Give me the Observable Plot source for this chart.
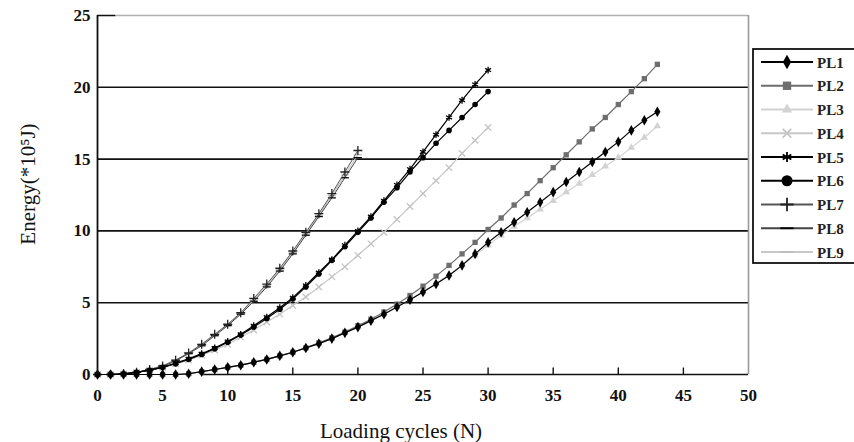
<!DOCTYPE html>
<html><head><meta charset="utf-8">
<script src="https://cdn.jsdelivr.net/npm/d3@7"></script>
<script src="https://cdn.jsdelivr.net/npm/@observablehq/plot@0.6"></script>
<style>
body{margin:0;background:#fff;}
#wrap{position:relative;width:854px;height:442px;overflow:hidden;background:#fff;}
#legend{position:absolute;left:752px;top:48px;}
</style></head><body><div id="wrap"></div>
<script>
// ---- data ----
const seriesNames = ["PL1","PL2","PL3","PL4","PL5","PL6","PL7","PL8","PL9"];
const xTicks = [0,5,10,15,20,25,30,35,40,45,50];
const yTicks = [0,5,10,15,20,25];
// energy values for cycles 0,1,2,... (one value per loading cycle)
const PL1 = [0,0,0,0,0,0,0,0.05,0.2,0.35,0.5,0.65,0.85,1.05,1.3,1.55,1.85,2.15,2.5,2.9,3.3,3.75,4.2,4.7,5.2,5.75,6.3,6.9,7.6,8.4,9.2,9.9,10.6,11.3,12.0,12.7,13.4,14.1,14.8,15.5,16.2,17.0,17.7,18.3];
const PL2 = [0,0,0,0,0,0,0,0.05,0.2,0.35,0.5,0.65,0.85,1.05,1.3,1.55,1.85,2.2,2.55,2.95,3.4,3.85,4.35,4.9,5.5,6.15,6.85,7.6,8.4,9.2,10.1,10.9,11.8,12.6,13.5,14.4,15.3,16.2,17.1,17.9,18.8,19.7,20.6,21.6];
const PL3 = [0,0,0,0,0,0,0,0.05,0.2,0.35,0.5,0.65,0.85,1.05,1.3,1.55,1.85,2.15,2.5,2.9,3.3,3.75,4.2,4.7,5.2,5.75,6.35,6.95,7.6,8.3,9.0,9.7,10.3,10.9,11.5,12.1,12.7,13.3,13.9,14.5,15.1,15.8,16.5,17.3];
const PL4 = [0,0,0.05,0.15,0.3,0.5,0.75,1.0,1.35,1.7,2.1,2.6,3.1,3.65,4.2,4.8,5.4,6.1,6.8,7.5,8.3,9.1,9.9,10.8,11.7,12.6,13.5,14.4,15.4,16.3,17.2];
const PL5 = [0,0,0.05,0.15,0.3,0.5,0.8,1.1,1.45,1.85,2.3,2.8,3.4,4.0,4.65,5.35,6.2,7.1,8.0,9.0,10.0,11.0,12.1,13.2,14.3,15.5,16.7,17.9,19.1,20.2,21.2];
const PL6 = [0,0,0.05,0.15,0.3,0.5,0.75,1.05,1.4,1.8,2.25,2.75,3.3,3.9,4.55,5.25,6.1,7.0,7.95,8.9,9.9,10.9,12.0,13.0,14.1,15.1,16.1,17.0,17.9,18.8,19.7];
const PL7 = [0,0,0.05,0.15,0.35,0.6,1.0,1.5,2.1,2.8,3.5,4.3,5.3,6.3,7.4,8.6,9.9,11.2,12.6,14.1,15.6];
const PL8 = [0,0,0.05,0.15,0.3,0.55,0.95,1.45,2.0,2.7,3.4,4.2,5.1,6.1,7.2,8.4,9.7,11.0,12.3,13.7,15.1];
const PL9 = [0,0,0.05,0.15,0.35,0.6,1.0,1.5,2.1,2.75,3.45,4.25,5.2,6.2,7.3,8.5,9.8,11.1,12.45,13.9,15.3];
const xLabel = "Loading cycles (N)";
const yLabel = "Energy(*10\u2075J)";

// ---- styles ----
const dash = {draw(ctx, size){const w = Math.sqrt(size)*0.75; ctx.moveTo(-w,0); ctx.lineTo(w,0);}};
const styles = {
  PL1:{color:"#000", line:"#000", symbol:"diamond", filled:true, r:3.2, lw:1.2},
  PL2:{color:"#6e6e6e", line:"#6e6e6e", symbol:"square", filled:true, r:3.0, lw:1.2},
  PL3:{color:"#d2d2d2", line:"#d2d2d2", symbol:"triangle", filled:true, r:2.8, lw:1.2},
  PL4:{color:"#c4c4c4", line:"#c8c8c8", symbol:"times", filled:false, r:3.0, lw:1.2},
  PL5:{color:"#000", line:"#000", symbol:"asterisk", filled:false, r:3.2, lw:1.2},
  PL6:{color:"#000", line:"#000", symbol:"circle", filled:true, r:2.8, lw:1.2},
  PL7:{color:"#222", line:"#555", symbol:"plus", filled:false, r:3.0, lw:1},
  PL8:{color:"#000", line:"#444", symbol:dash, filled:false, r:3.0, lw:1},
  PL9:{color:"#bdbdbd", line:"#c8c8c8", symbol:dash, filled:false, r:3.0, lw:1.2}
};
const values = {PL1,PL2,PL3,PL4,PL5,PL6,PL7,PL8,PL9};
const drawOrder = ["PL3","PL4","PL9","PL2","PL8","PL7","PL6","PL5","PL1"];

const seriesMarks = drawOrder.flatMap(name => {
  const s = styles[name];
  const rows = values[name].map((e, n) => ({n, e, series: name}));
  const dotOpts = s.filled
    ? {x:"n", y:"e", symbol: s.symbol, r: s.r, fill: s.color, stroke: "none"}
    : {x:"n", y:"e", symbol: s.symbol, r: s.r, fill: "none", stroke: s.color, strokeWidth: 1.3};
  return [
    Plot.line(rows, {x:"n", y:"e", stroke: s.line, strokeWidth: s.lw}),
    Plot.dot(rows, dotOpts)
  ];
});

const chart = Plot.plot({
  width: 854, height: 442,
  marginLeft: 97, marginRight: 106, marginTop: 15, marginBottom: 68,
  x: {domain: [0, 50]},
  y: {domain: [0, 25]},
  style: {fontFamily: "'Liberation Serif', serif", background: "transparent", color: "#111"},
  marks: [
    Plot.ruleY([25], {x1: 0, x2: 50, stroke: "#b0b0b0", strokeWidth: 1.4}),
    Plot.ruleY([5,10,15,20], {x1: 0, x2: 50, stroke: "#111", strokeWidth: 1.6}),
    Plot.ruleY([25], {x1: 0, x2: 1.4, stroke: "#111", strokeWidth: 1.4}),
    Plot.ruleX([50], {y1: 0, y2: 25, stroke: "#999", strokeWidth: 1.6}),
    Plot.ruleY([0], {x1: 8, x2: 50, stroke: "#111", strokeWidth: 1.6}),
    Plot.ruleX(xTicks.filter(t => t > 0 && t < 50), {y1: 0, y2: 0.45, stroke: "#111", strokeWidth: 1.4}),
    Plot.axisX({ticks: xTicks, tickSize: 0, tickPadding: 14, fontSize: 17, fontWeight: "bold", label: null}),
    Plot.axisY({ticks: yTicks, tickSize: 0, tickPadding: 7, fontSize: 17, fontWeight: "bold", label: null}),
    ...seriesMarks,
    Plot.ruleX([0], {y1: 0, y2: 25, stroke: "#111", strokeWidth: 1.8}),
    Plot.text([yLabel], {frameAnchor: "left", text: d => d, rotate: -90, textAnchor: "middle", lineAnchor: "middle", dx: -69, dy: -11, fontSize: 21, fill: "#111"}),
    Plot.text([xLabel], {frameAnchor: "bottom", text: d => d, textAnchor: "middle", lineAnchor: "middle", dy: 57, dx: -22, fontSize: 21, fill: "#111"})
  ]
});
const wrap = document.getElementById("wrap");
wrap.appendChild(chart);

// ---- legend ----
const leg = d3.select(wrap).append("svg").attr("id","legend").attr("width", 110).attr("height", 218);
leg.append("rect").attr("x", 1).attr("y", 1).attr("width", 120).attr("height", 214)
  .attr("fill", "#fff").attr("stroke", "#111").attr("stroke-width", 1.8);
const symbolMap = {diamond: d3.symbolDiamond, square: d3.symbolSquare, triangle: d3.symbolTriangle,
  times: d3.symbolTimes, asterisk: d3.symbolAsterisk, circle: d3.symbolCircle, plus: d3.symbolPlus};
const legendSizes = {PL1: 60, PL2: 70, PL3: 45, PL4: 50, PL5: 70, PL6: 95, PL7: 60, PL8: 80, PL9: 80};
seriesNames.forEach((name, i) => {
  const s = styles[name];
  const y = 14 + i * 23.75;
  const g = leg.append("g").attr("transform", `translate(0,${y})`);
  g.append("line").attr("x1", 9).attr("x2", 61).attr("y1", 0).attr("y2", 0)
    .attr("stroke", s.line).attr("stroke-width", 1.8);
  const type = typeof s.symbol === "string" ? symbolMap[s.symbol] : s.symbol;
  const path = d3.symbol(type, legendSizes[name])();
  const p = g.append("path").attr("d", path).attr("transform", "translate(35,0)");
  if (s.filled) p.attr("fill", s.color); else p.attr("fill", "none").attr("stroke", s.color).attr("stroke-width", 1.8);
  g.append("text").attr("x", 65).attr("y", 5.5).text(name)
    .attr("font-family", "'Liberation Serif', serif").attr("font-weight", "bold").attr("font-size", 15).attr("fill", "#222");
});
</script></body></html>
